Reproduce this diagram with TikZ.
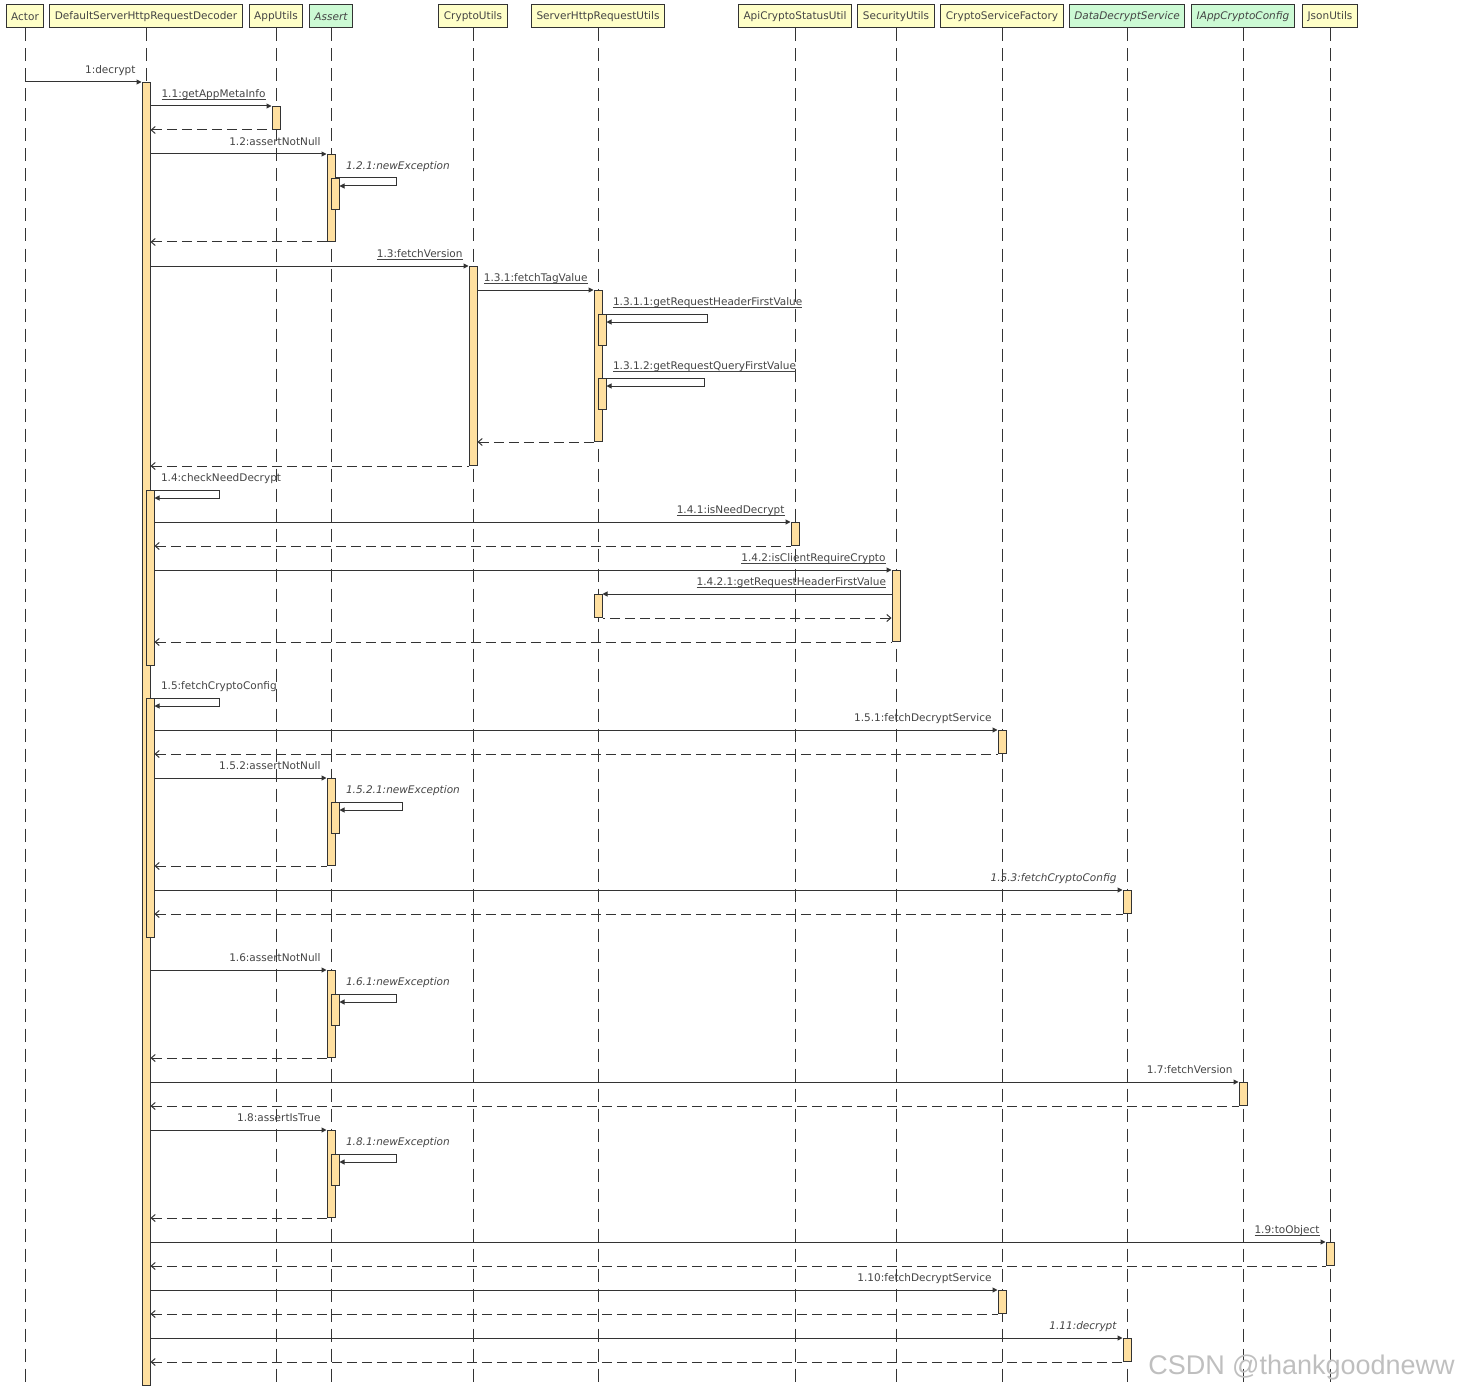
\documentclass[tikz,border=0pt]{standalone}
\usepackage{fontspec}
\setmainfont{DejaVu Sans}
\newfontfamily\wmfont{Liberation Sans}
\usepackage{tikz}
\usetikzlibrary{calc,arrows.meta}
\usepackage{xcolor}

\definecolor{headyellow}{RGB}{255,255,200}
\definecolor{headgreen}{RGB}{204,250,212}
\definecolor{actfill}{RGB}{255,224,160}
\definecolor{linegray}{RGB}{51,51,51}
\definecolor{textgray}{RGB}{68,68,68}

% underlined message name (static call)
\newcommand{\msgul}[1]{\setbox0=\hbox{#1}\rlap{\vrule width \wd0 height -1.3pt depth 2.2pt}\box0}

\begin{document}
\begin{tikzpicture}[x=1pt, y=-1pt]
    % styles
    \tikzstyle{head}=[
      draw=linegray,
      line width=1pt,
      fill=headyellow,
      rectangle,
      minimum height=23pt,
      inner xsep=5pt,
      text=textgray,
      font=\fontsize{10.5}{12}\selectfont
    ]
    \tikzstyle{iface}=[head, fill=headgreen, font=\fontsize{10.5}{12}\selectfont\itshape]
    \tikzstyle{lifeline}=[draw=linegray, line width=1pt, dash pattern=on 13pt off 7pt]
    \tikzstyle{act}=[
      draw=linegray,
      line width=1pt,
      fill=actfill,
      rectangle,
      minimum width=8pt,
      inner sep=0pt,
      anchor=north
    ]
    \tikzstyle{msg}=[draw=linegray, line width=1pt, -{Triangle[length=5pt,width=5pt]}]
    \tikzstyle{ret}=[draw=linegray, line width=1pt, dash pattern=on 10pt off 5pt, {Straight Barb[length=4pt,width=7pt]}-]
    \tikzstyle{lbl}=[inner sep=0pt, text=textgray, font=\fontsize{10.5}{12}\selectfont]
    \tikzstyle{ital}=[font=\fontsize{10.5}{12}\selectfont\itshape]
    \tikzstyle{endlbl}=[lbl, pos=1, anchor=base east, xshift=-5.5pt, yshift=8.5pt]
    \tikzstyle{startlbl}=[lbl, pos=0, anchor=base east, xshift=-5pt, yshift=8.5pt]
    \tikzstyle{selflbl}=[lbl, anchor=base west, xshift=10pt, yshift=8.5pt]

    \useasboundingbox (0,0) rectangle (1459,1391);

    % Participants
    \node[head]  (actor) at (25,16.5)   {Actor};
    \node[head]  (dec)   at (146,16.5)  {DefaultServerHttpRequestDecoder};
    \node[head]  (app)   at (276,16.5)  {AppUtils};
    \node[iface] (asrt)  at (331,16.5)  {Assert};
    \node[head]  (cu)    at (473,16.5)  {CryptoUtils};
    \node[head]  (shru)  at (598,16.5)  {ServerHttpRequestUtils};
    \node[head]  (acsu)  at (795,16.5)  {ApiCryptoStatusUtil};
    \node[head]  (secu)  at (896,16.5)  {SecurityUtils};
    \node[head]  (csf)   at (1002,16.5) {CryptoServiceFactory};
    \node[iface] (dds)   at (1127,16.5) {DataDecryptService};
    \node[iface] (iacc)  at (1243,16.5) {IAppCryptoConfig};
    \node[head]  (json)  at (1330,16.5) {JsonUtils};

    % Lifelines
    \draw[lifeline] (actor.south) -- (actor.south |- 0,1388);
    \draw[lifeline] (dec.south) -- (dec.south |- 0,1388);
    \draw[lifeline] (app.south) -- (app.south |- 0,1388);
    \draw[lifeline] (asrt.south) -- (asrt.south |- 0,1388);
    \draw[lifeline] (cu.south) -- (cu.south |- 0,1388);
    \draw[lifeline] (shru.south) -- (shru.south |- 0,1388);
    \draw[lifeline] (acsu.south) -- (acsu.south |- 0,1388);
    \draw[lifeline] (secu.south) -- (secu.south |- 0,1388);
    \draw[lifeline] (csf.south) -- (csf.south |- 0,1388);
    \draw[lifeline] (dds.south) -- (dds.south |- 0,1388);
    \draw[lifeline] (iacc.south) -- (iacc.south |- 0,1388);
    \draw[lifeline] (json.south) -- (json.south |- 0,1388);

    % 1 decrypt
    \node[act, minimum height=1303pt] (d0) at (146,82) {};
    \draw[msg] (actor |- d0.north) -- node[endlbl] (l1) {1:decrypt} (d0.north west);

    % 1.1
    \node[act, minimum height=23pt] (ap1) at (276,106) {};
    \draw[msg] (d0.east |- ap1.north) -- node[endlbl] (l11) {\msgul{1.1:getAppMetaInfo}} (ap1.north west);
    \draw[ret] (d0.east |- ap1.south) -- (ap1.south west);

    % 1.2
    \node[act, minimum height=87pt] (as1) at (331,154) {};
    \node[act, minimum height=31pt] (as1n) at (335,178) {};
    \draw[msg] (d0.east |- as1.north) -- node[endlbl] (l12) {1.2:assertNotNull} (as1.north west);
    \draw[msg] (as1.east |- as1n.north) node[selflbl, ital] (l121) {1.2.1:newException} -- ++(61,0) |- ($(as1n.north east)+(0,8)$);
    \draw[ret] (d0.east |- as1.south) -- (as1.south west);

    % 1.3
    \node[act, minimum height=199pt] (cu1) at (473,266) {};
    \draw[msg] (d0.east |- cu1.north) -- node[endlbl] (l13) {\msgul{1.3:fetchVersion}} (cu1.north west);
    \node[act, minimum height=151pt] (sh1) at (598,290) {};
    \draw[msg] (cu1.east |- sh1.north) -- node[endlbl] (l131) {\msgul{1.3.1:fetchTagValue}} (sh1.north west);
    \node[act, minimum height=31pt] (sh1a) at (602,314) {};
    \draw[msg] (sh1.east |- sh1a.north) node[selflbl] (l1311) {\msgul{1.3.1.1:getRequestHeaderFirstValue}} -- ++(105,0) |- ($(sh1a.north east)+(0,8)$);
    \node[act, minimum height=31pt] (sh1b) at (602,378) {};
    \draw[msg] (sh1.east |- sh1b.north) node[selflbl] (l1312) {\msgul{1.3.1.2:getRequestQueryFirstValue}} -- ++(102,0) |- ($(sh1b.north east)+(0,8)$);
    \draw[ret] (cu1.east |- sh1.south) -- (sh1.south west);
    \draw[ret] (d0.east |- cu1.south) -- (cu1.south west);

    % 1.4
    \node[act, minimum height=175pt] (d1) at (150,490) {};
    \draw[msg] (d0.east |- d1.north) node[selflbl] (l14) {1.4:checkNeedDecrypt} -- ++(69,0) |- ($(d1.north east)+(0,8)$);
    \node[act, minimum height=23pt] (ac1) at (795,522) {};
    \draw[msg] (d1.east |- ac1.north) -- node[endlbl] (l141) {\msgul{1.4.1:isNeedDecrypt}} (ac1.north west);
    \draw[ret] (d1.east |- ac1.south) -- (ac1.south west);
    \node[act, minimum height=71pt] (se1) at (896,570) {};
    \draw[msg] (d1.east |- se1.north) -- node[endlbl] (l142) {\msgul{1.4.2:isClientRequireCrypto}} (se1.north west);
    \node[act, minimum height=23pt] (sh2) at (598,594) {};
    \draw[msg] (se1.west |- sh2.north) -- node[startlbl] (l1421) {\msgul{1.4.2.1:getRequestHeaderFirstValue}} (sh2.north east);
    \draw[ret] (se1.west |- sh2.south) -- (sh2.south east);
    \draw[ret] (d1.east |- se1.south) -- (se1.south west);

    % 1.5
    \node[act, minimum height=239pt] (d2) at (150,698) {};
    \draw[msg] (d0.east |- d2.north) node[selflbl] (l15) {1.5:fetchCryptoConfig} -- ++(69,0) |- ($(d2.north east)+(0,8)$);
    \node[act, minimum height=23pt] (cf1) at (1002,730) {};
    \draw[msg] (d2.east |- cf1.north) -- node[endlbl] (l151) {1.5.1:fetchDecryptService} (cf1.north west);
    \draw[ret] (d2.east |- cf1.south) -- (cf1.south west);
    \node[act, minimum height=87pt] (as2) at (331,778) {};
    \node[act, minimum height=31pt] (as2n) at (335,802) {};
    \draw[msg] (d2.east |- as2.north) -- node[endlbl] (l152) {1.5.2:assertNotNull} (as2.north west);
    \draw[msg] (as2.east |- as2n.north) node[selflbl, ital] (l1521) {1.5.2.1:newException} -- ++(67,0) |- ($(as2n.north east)+(0,8)$);
    \draw[ret] (d2.east |- as2.south) -- (as2.south west);
    \node[act, minimum height=23pt] (dd1) at (1127,890) {};
    \draw[msg] (d2.east |- dd1.north) -- node[endlbl, ital] (l153) {1.5.3:fetchCryptoConfig} (dd1.north west);
    \draw[ret] (d2.east |- dd1.south) -- (dd1.south west);

    % 1.6
    \node[act, minimum height=87pt] (as3) at (331,970) {};
    \node[act, minimum height=31pt] (as3n) at (335,994) {};
    \draw[msg] (d0.east |- as3.north) -- node[endlbl] (l16) {1.6:assertNotNull} (as3.north west);
    \draw[msg] (as3.east |- as3n.north) node[selflbl, ital] (l161) {1.6.1:newException} -- ++(61,0) |- ($(as3n.north east)+(0,8)$);
    \draw[ret] (d0.east |- as3.south) -- (as3.south west);

    % 1.7
    \node[act, minimum height=23pt] (ia1) at (1243,1082) {};
    \draw[msg] (d0.east |- ia1.north) -- node[endlbl] (l17) {1.7:fetchVersion} (ia1.north west);
    \draw[ret] (d0.east |- ia1.south) -- (ia1.south west);

    % 1.8
    \node[act, minimum height=87pt] (as4) at (331,1130) {};
    \node[act, minimum height=31pt] (as4n) at (335,1154) {};
    \draw[msg] (d0.east |- as4.north) -- node[endlbl] (l18) {1.8:assertIsTrue} (as4.north west);
    \draw[msg] (as4.east |- as4n.north) node[selflbl, ital] (l181) {1.8.1:newException} -- ++(61,0) |- ($(as4n.north east)+(0,8)$);
    \draw[ret] (d0.east |- as4.south) -- (as4.south west);

    % 1.9
    \node[act, minimum height=23pt] (js1) at (1330,1242) {};
    \draw[msg] (d0.east |- js1.north) -- node[endlbl] (l19) {\msgul{1.9:toObject}} (js1.north west);
    \draw[ret] (d0.east |- js1.south) -- (js1.south west);

    % 1.10
    \node[act, minimum height=23pt] (cf2) at (1002,1290) {};
    \draw[msg] (d0.east |- cf2.north) -- node[endlbl] (l110) {1.10:fetchDecryptService} (cf2.north west);
    \draw[ret] (d0.east |- cf2.south) -- (cf2.south west);

    % 1.11
    \node[act, minimum height=23pt] (dd2) at (1127,1338) {};
    \draw[msg] (d0.east |- dd2.north) -- node[endlbl, ital] (l111) {1.11:decrypt} (dd2.north west);
    \draw[ret] (d0.east |- dd2.south) -- (dd2.south west);

    % watermark
    \node[anchor=base east, inner sep=0pt, text=black!25, font=\wmfont\fontsize{27}{30}\selectfont] (wm) at (1455,1374) {CSDN @thankgoodneww};
  \end{tikzpicture}
\end{document}
